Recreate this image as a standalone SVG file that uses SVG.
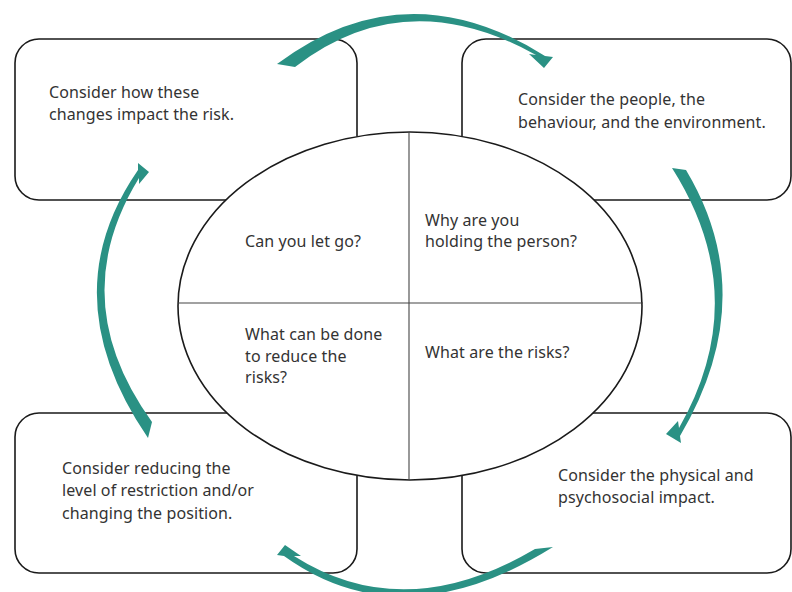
<svg xmlns="http://www.w3.org/2000/svg" width="792" height="592" viewBox="0 0 792 592">
<style>
.box{fill:#fff;stroke:#1a1a1a;stroke-width:1.6}
.ell{fill:#fff;stroke:#1a1a1a;stroke-width:1.6}
.div{stroke:#444;stroke-width:1.1}
.t{font-family:"Noto Sans","Liberation Sans",sans-serif;font-size:16px;letter-spacing:0.1px;fill:#333}
.arr{fill:#2a9184}
</style>
<rect width="792" height="592" fill="#fff"/>
<g id="box-tl"><rect class="box" x="15" y="39" width="342" height="161" rx="24"/>
<text class="t" x="49" y="98">Consider how these</text><text class="t" x="49" y="120">changes impact the risk.</text></g>
<g id="box-tr"><rect class="box" x="462" y="39" width="329" height="161" rx="24"/>
<text class="t" x="518" y="105">Consider the people, the</text><text class="t" x="518" y="128">behaviour, and the environment.</text></g>
<g id="box-bl"><rect class="box" x="15" y="413" width="342" height="160" rx="24"/>
<text class="t" x="62" y="474">Consider reducing the</text><text class="t" x="62" y="496">level of restriction and/or</text><text class="t" x="62" y="519">changing the position.</text></g>
<g id="box-br"><rect class="box" x="462" y="413" width="329" height="160" rx="24"/>
<text class="t" x="558" y="481">Consider the physical and</text><text class="t" x="558" y="503">psychosocial impact.</text></g>
<g id="center">
<ellipse class="ell" cx="410" cy="306" rx="232" ry="174"/>
<line class="div" x1="178" y1="303" x2="643" y2="303"/>
<line class="div" x1="409" y1="132" x2="409" y2="480"/>
<text class="t" x="245" y="247">Can you let go?</text>
<text class="t" x="425" y="226">Why are you</text><text class="t" x="425" y="247">holding the person?</text>
<text class="t" x="245" y="340">What can be done</text><text class="t" x="245" y="362">to reduce the</text><text class="t" x="245" y="383">risks?</text>
<text class="t" x="425" y="358">What are the risks?</text>
</g>
<g id="connectors">
<path class="arr" d="M277,64 Q405,-32 545,56 L553,57 L544,68 L529,54 L536,55 Q405,-18 295,67 Z"/>
<path class="arr" d="M686,170 Q762,297 680,436 L681,443 L666,434 L678,421 L679,428 Q754,297 672,168 Z"/>
<path class="arr" d="M553,547 Q402,641 284,556 L277,555 L285,545 L301,556 L294,556 Q404,626 535,549 Z"/>
<path class="arr" d="M148,438 Q51,296 138,170 L138,163 L149,172 L139,184 L139,178 Q64,300 152,422 Z"/>
</g>
</svg>
